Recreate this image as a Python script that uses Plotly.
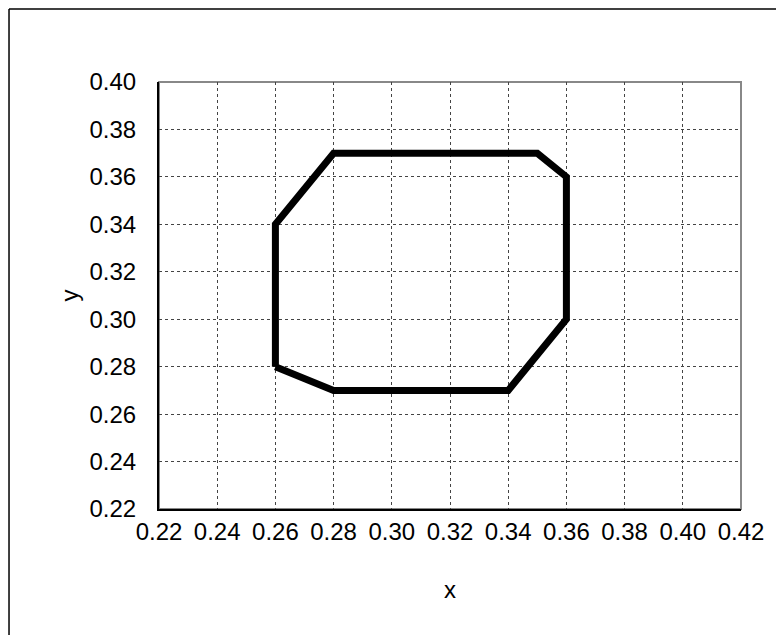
import plotly.graph_objects as go

# polygon corners, closed back to the start
x_vals = [0.26, 0.26, 0.28, 0.35, 0.36, 0.36, 0.34, 0.28, 0.26]
y_vals = [0.28, 0.34, 0.37, 0.37, 0.36, 0.30, 0.27, 0.27, 0.28]

x_ticks = [0.22, 0.24, 0.26, 0.28, 0.30, 0.32, 0.34, 0.36, 0.38, 0.40, 0.42]
y_ticks = [0.22, 0.24, 0.26, 0.28, 0.30, 0.32, 0.34, 0.36, 0.38, 0.40]

fig = go.Figure()
fig.add_trace(go.Scatter(x=x_vals, y=y_vals, mode='lines',
                         line=dict(color='black', width=7), showlegend=False))

axis_font = dict(family='Liberation Sans, Arial, sans-serif', size=24, color='black')

fig.update_xaxes(range=[0.22, 0.42], tickvals=x_ticks, ticktext=['%.2f' % v for v in x_ticks],
                 showgrid=True, gridcolor='#444444', gridwidth=1, griddash='dot',
                 showline=True, linecolor='black', linewidth=2, zeroline=False,
                 ticks='', ticklabelstandoff=0, tickfont=axis_font,
                 title=dict(text='x', font=axis_font, standoff=37))
fig.update_yaxes(range=[0.22, 0.40], tickvals=y_ticks, ticktext=['%.2f' % v for v in y_ticks],
                 showgrid=True, gridcolor='#444444', gridwidth=1, griddash='dot',
                 showline=True, linecolor='black', linewidth=2, zeroline=False,
                 ticks='', ticklabelstandoff=16, tickfont=axis_font,
                 title=dict(text='y', font=axis_font, standoff=4))

# gray frame on top/right of plot area
fig.add_shape(type='rect', xref='paper', yref='paper', x0=0, y0=0, x1=1, y1=1,
              line=dict(color='#888888', width=2), layer='below')
# outer chart border (only top and left visible in the window)
fig.add_shape(type='line', xref='paper', yref='paper', x0=-0.2577, y0=1.171, x1=1.2, y1=1.171,
              line=dict(color='black', width=1.5))
fig.add_shape(type='line', xref='paper', yref='paper', x0=-0.2577, y0=1.171, x1=-0.2577, y1=-0.35,
              line=dict(color='black', width=1.5))

fig.update_layout(width=784, height=635,
                  margin=dict(l=151, r=51, t=74, b=134),
                  plot_bgcolor='white', paper_bgcolor='white',
                  font=axis_font)

fig.write_html("out.html")
